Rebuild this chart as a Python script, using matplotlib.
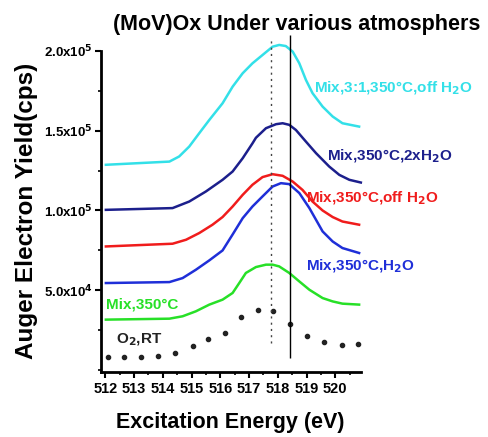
import matplotlib
matplotlib.use('Agg')
import matplotlib.pyplot as plt
from matplotlib.ticker import MultipleLocator, FixedLocator, FixedFormatter

plt.rcParams['font.family'] = ['Liberation Sans', 'DejaVu Sans']
plt.rcParams['font.weight'] = 'bold'

# excitation energy (eV) and Auger yield (x1e5 cps)
x_cyan = [512.02, 514.23, 514.57, 514.92, 515.27, 515.62, 516.08, 516.43, 516.78, 517.12,
          517.47, 517.82, 518.05, 518.28, 518.52, 518.75, 518.98, 519.21, 519.56, 519.91,
          520.25, 520.83]
y_cyan = [1.286, 1.306, 1.338, 1.400, 1.484, 1.567, 1.671, 1.775, 1.859, 1.921,
          1.973, 2.025, 2.036, 2.029, 1.994, 1.921, 1.817, 1.734, 1.650, 1.588,
          1.546, 1.525]

x_navy = [512.02, 514.34, 514.92, 515.50, 516.08, 516.43, 516.78, 517.12, 517.24, 517.59,
          517.94, 518.17, 518.40, 518.63, 518.98, 519.33, 519.56, 519.79, 520.14, 520.49,
          520.89]
y_navy = [1.004, 1.015, 1.056, 1.119, 1.192, 1.244, 1.327, 1.420, 1.455, 1.515,
          1.540, 1.546, 1.536, 1.504, 1.431, 1.359, 1.317, 1.275, 1.223, 1.192,
          1.175]

x_red = [512.02, 514.34, 514.81, 515.27, 515.73, 516.08, 516.43, 516.78, 517.12, 517.47,
         517.82, 518.17, 518.52, 518.86, 519.21, 519.56, 519.91, 520.25, 520.83]
y_red = [0.775, 0.792, 0.817, 0.859, 0.911, 0.959, 1.025, 1.098, 1.161, 1.209,
         1.227, 1.217, 1.181, 1.129, 1.056, 1.000, 0.959, 0.931, 0.911]

x_blue = [512.02, 514.23, 514.69, 515.15, 515.62, 516.08, 516.43, 516.78, 517.12, 517.47,
          517.82, 518.11, 518.40, 518.75, 519.10, 519.56, 519.91, 520.25, 520.83]
y_blue = [0.546, 0.552, 0.577, 0.629, 0.688, 0.750, 0.850, 0.952, 1.025, 1.088,
          1.150, 1.171, 1.165, 1.109, 1.015, 0.869, 0.806, 0.765, 0.734]

x_green = [512.02, 514.23, 514.69, 515.15, 515.62, 516.08, 516.43, 516.66, 516.89, 517.24,
           517.59, 517.82, 518.05, 518.40, 518.75, 519.10, 519.56, 519.91, 520.25, 520.83]
y_green = [0.317, 0.323, 0.338, 0.369, 0.411, 0.442, 0.484, 0.546, 0.609, 0.646,
           0.661, 0.661, 0.650, 0.609, 0.556, 0.504, 0.452, 0.431, 0.417, 0.411]

x_o2 = [512.08, 512.66, 513.24, 513.82, 514.43, 515.04, 515.59, 516.17, 516.72, 517.30,
        517.85, 518.43, 519.03, 519.62, 520.22, 520.80]
y_o2 = [0.081, 0.084, 0.084, 0.088, 0.109, 0.15, 0.196, 0.234, 0.331, 0.375,
        0.369, 0.29, 0.213, 0.175, 0.16, 0.165]

x_ticks = [512, 513, 514, 515, 516, 517, 518, 519, 520]
y_ticks = [0.5, 1.0, 1.5, 2.0]
y_tick_labels = ['5.0x10$^4$', '1.0x10$^5$', '1.5x10$^5$', '2.0x10$^5$']

fig = plt.figure(figsize=(4.89, 4.37), dpi=100)
ax = fig.add_axes([0.2065, 0.149, 0.532, 0.735])

ax.plot(x_cyan, y_cyan, color='#33e0e8', lw=1.8, clip_on=False)
ax.plot(x_navy, y_navy, color='#1c1f8c', lw=1.8, clip_on=False)
ax.plot(x_red, y_red, color='#f01c1c', lw=1.8, clip_on=False)
ax.plot(x_blue, y_blue, color='#1f2fd8', lw=1.8, clip_on=False)
ax.plot(x_green, y_green, color='#27e027', lw=1.8, clip_on=False)
ax.plot(x_o2, y_o2, ls='none', marker='o', ms=3.0, color='#222222', clip_on=False)

ax.vlines(518.43, 0.08, 2.1, color='black', lw=1.0, clip_on=False)
ax.vlines(517.77, 0.17, 2.08, color='#444444', lw=1.0, linestyles=(0, (1.5, 3)), clip_on=False)

lab = dict(fontsize=11, fontweight='bold', va='center', ha='left')
ax.text(519.27, 1.767, 'Mix,3:1,350°C,off H$_2$O', color='#33e0e8', **lab)
ax.text(519.73, 1.3375, 'Mix,350°C,2xH$_2$O', color='#1c1f8c', **lab)
ax.text(518.98, 1.0775, 'Mix,350°C,off H$_2$O', color='#f01c1c', **lab)
ax.text(518.98, 0.65, 'Mix,350°C,H$_2$O', color='#1f2fd8', **lab)
ax.text(512.02, 0.41, 'Mix,350°C', color='#27e027', **lab)
ax.text(512.37, 0.19, 'O$_2$,RT', color='#222222', **lab)

ax.set_xlim(511.85, 520.9)
ax.set_ylim(-0.01, 2.0)
ax.xaxis.set_major_locator(FixedLocator(x_ticks))
ax.xaxis.set_minor_locator(MultipleLocator(0.5))
ax.yaxis.set_major_locator(FixedLocator(y_ticks))
ax.yaxis.set_major_formatter(FixedFormatter(y_tick_labels))
ax.yaxis.set_minor_locator(MultipleLocator(0.25))

for side in ['top', 'right']:
    ax.spines[side].set_visible(False)
for side in ['left', 'bottom']:
    ax.spines[side].set_linewidth(2.0)
ax.tick_params(which='major', direction='out', length=4, width=1.5, pad=2)
ax.tick_params(axis='x', which='major', labelsize=10.5, pad=3)
ax.tick_params(axis='y', which='major', labelsize=9.5)
ax.tick_params(which='minor', direction='out', length=2.5, width=1.2)
for t in ax.get_xticklabels() + ax.get_yticklabels():
    t.set_fontweight('bold')

ax.set_ylabel('Auger Electron Yield(cps)', fontsize=17.5, fontweight='bold', labelpad=4)
fig.text(0.47, 0.033, 'Excitation Energy (eV)', fontsize=15.5, fontweight='bold',
         ha='center', va='center')
fig.text(0.607, 0.943, '(MoV)Ox Under various atmosphers', fontsize=15.5, fontweight='bold',
         ha='center', va='center')

fig.savefig('out.png', dpi=100)
